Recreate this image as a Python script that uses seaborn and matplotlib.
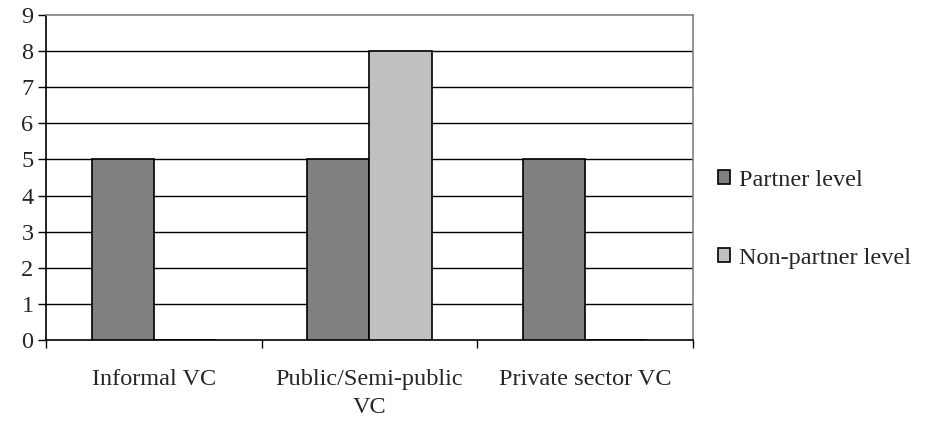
import matplotlib
matplotlib.use("Agg")
import matplotlib.pyplot as plt
import seaborn as sns
import pandas as pd

categories = ["Informal VC", "Public/Semi-public\nVC", "Private sector VC"]
series_names = ["Partner level", "Non-partner level"]
partner = [5, 5, 5]
non_partner = [0, 8, 0]
colors = ["#808080", "#c0c0c0"]

rows = []
for c, p, n in zip(categories, partner, non_partner):
    rows.append({"cat": c, "series": series_names[0], "val": p})
    rows.append({"cat": c, "series": series_names[1], "val": n})
df = pd.DataFrame(rows)

sns.set_style("white")
plt.rcParams["font.family"] = ["Liberation Serif", "DejaVu Serif"]

fig = plt.figure(figsize=(9.28, 4.23), dpi=100)
ax = fig.add_axes([46/928, 83/423, (693-46)/928, (340-15)/423])

sns.barplot(data=df, x="cat", y="val", hue="series", order=categories,
            hue_order=series_names, palette=colors, width=0.575, gap=0,
            edgecolor="black", linewidth=1.2, ax=ax, legend=True, zorder=3)

ax.set_ylim(0, 9)
ax.set_xlim(-0.5, 2.5)
ax.set_yticks(range(0, 10))
for y in range(1, 9):
    ax.axhline(y, color="black", linewidth=1.0, zorder=1)
ax.set_xlabel("")
ax.set_ylabel("")
ax.tick_params(axis="y", which="major", left=True, length=6, width=1,
               color="black", labelsize=17.5, pad=3)
ax.tick_params(axis="x", which="major", bottom=False, length=0, labelsize=17.5, pad=21)
for t in ax.get_xticklabels():
    t.set_linespacing(1.45)
ax.set_xticks([-0.5, 0.5, 1.5, 2.5], minor=True)
ax.tick_params(axis="x", which="minor", bottom=True, length=6, width=1, color="black")

for s in ["left", "bottom"]:
    ax.spines[s].set_color("black")
    ax.spines[s].set_linewidth(1.2)
for s in ["top", "right"]:
    ax.spines[s].set_color("#808080")
    ax.spines[s].set_linewidth(1.2)

handles, labels = ax.get_legend_handles_labels()
ax.legend_.remove()
fig.legend(handles, labels, loc="center left", bbox_to_anchor=(706/928, 0.482),
           frameon=False, fontsize=17.5, handlelength=0.5, handleheight=0.5,
           handletextpad=0.35, labelspacing=2.35, borderpad=0)

fig.savefig("out.png", dpi=100)
